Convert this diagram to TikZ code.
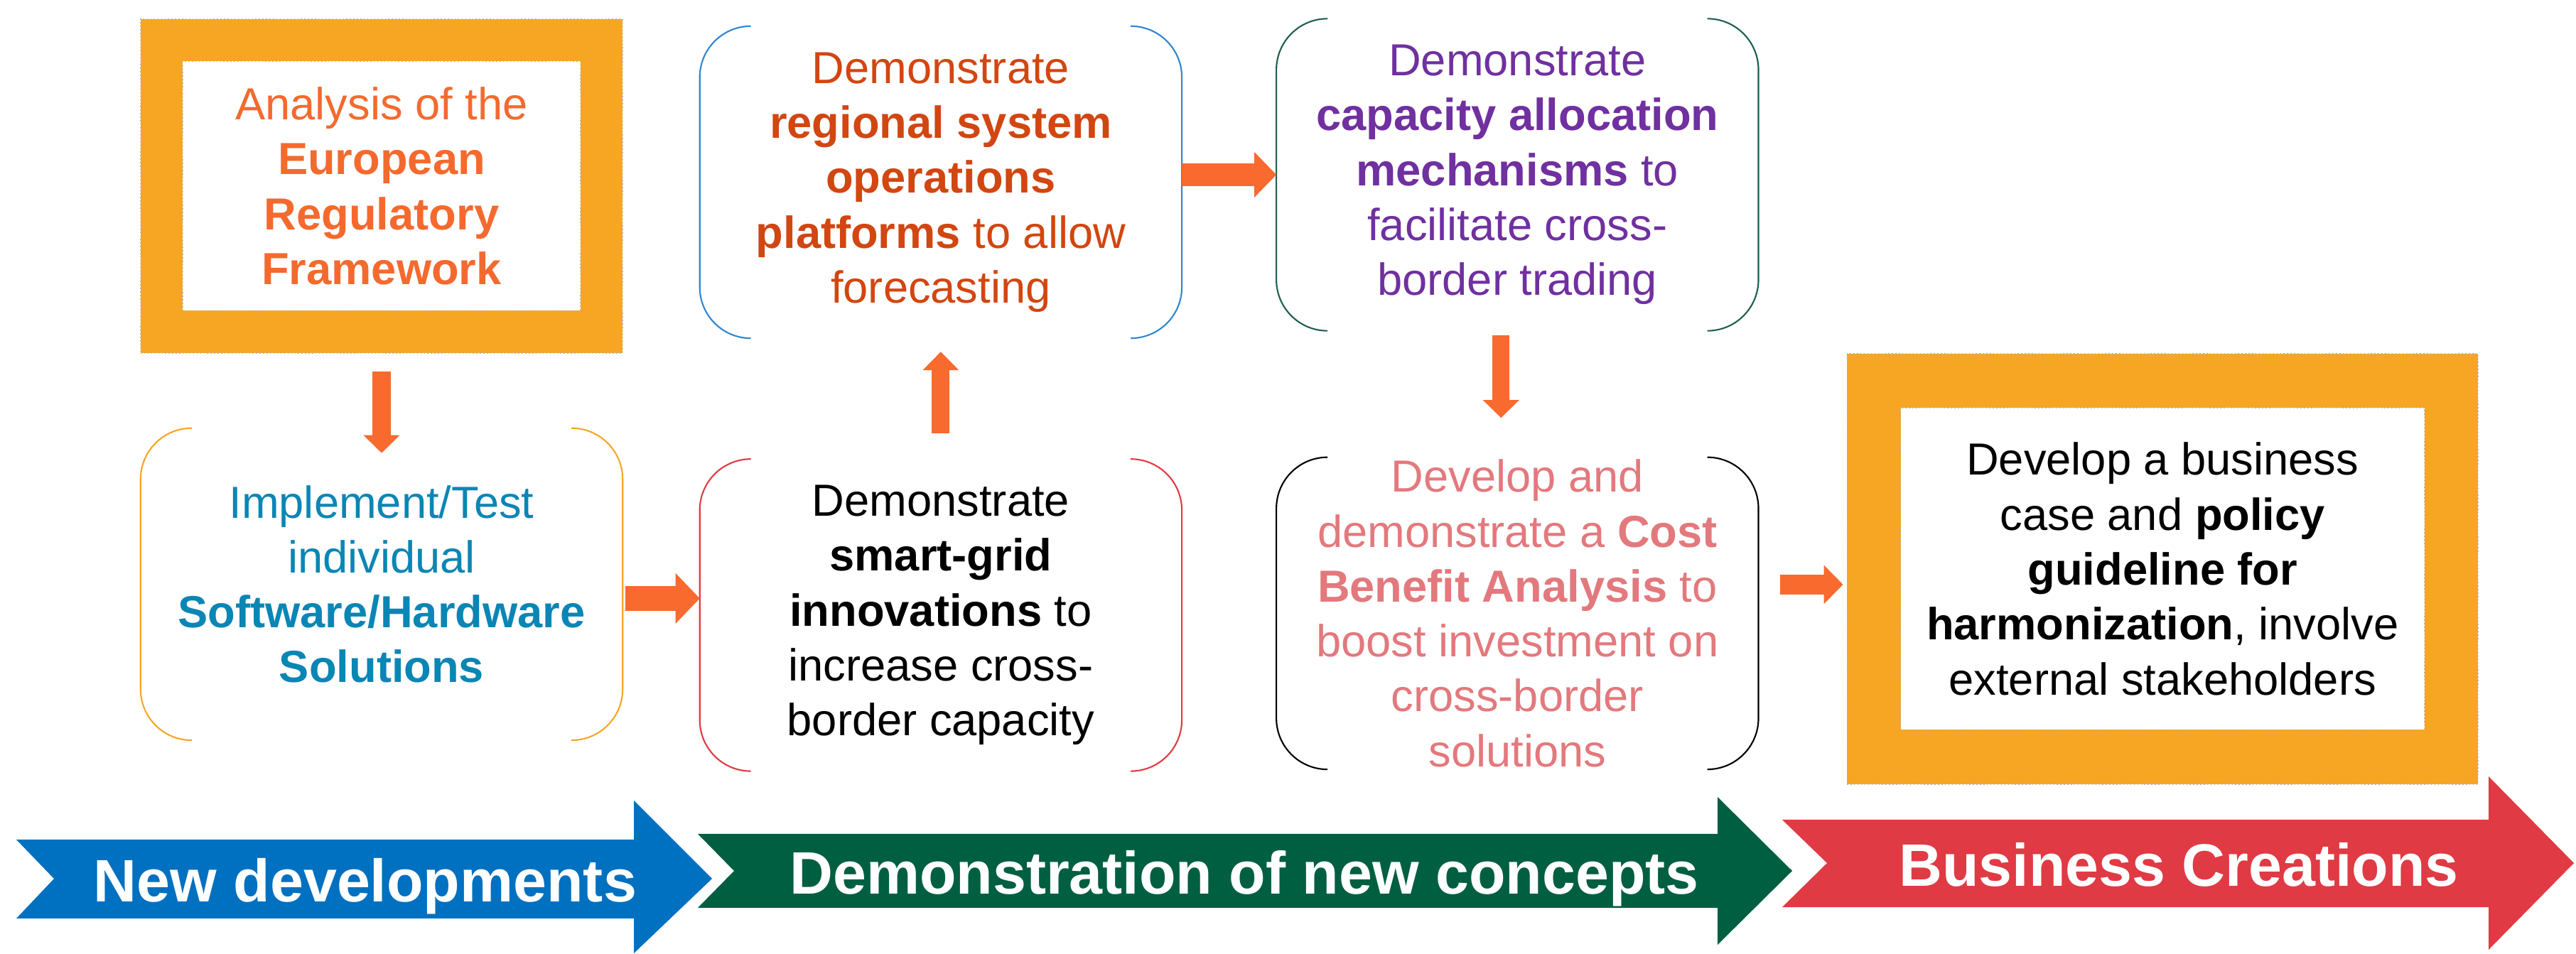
\documentclass[tikz,border=0pt]{standalone}
\usepackage{fontspec}
\setmainfont{Liberation Sans}
\usetikzlibrary{arrows.meta,positioning}

\definecolor{frameorange}{HTML}{F6A623}
\definecolor{arroworange}{HTML}{F86A2E}
\definecolor{anatext}{HTML}{F46A2E}
\definecolor{regtext}{HTML}{D24611}
\definecolor{regline}{HTML}{2E86D0}
\definecolor{captext}{HTML}{7030A0}
\definecolor{capline}{HTML}{1E5E4E}
\definecolor{impltext}{HTML}{0A86B5}
\definecolor{implline}{HTML}{F6A623}
\definecolor{smartline}{HTML}{E03A44}
\definecolor{costtext}{HTML}{E3797D}
\definecolor{newdev}{HTML}{0070C0}
\definecolor{demo}{HTML}{005F41}
\definecolor{busi}{HTML}{E03A44}

\begin{document}
\begin{tikzpicture}[
    box/.style={align=center, inner sep=0pt, font=\fontsize{18}{22}\selectfont},
    frame/.style={fill=frameorange, draw=gray!60, densely dotted, line width=0.4pt},
    inbox/.style={box, fill=white, draw=gray!60, densely dotted, line width=0.4pt},
    stage/.style={box, minimum width=6.77cm, minimum height=4.38cm},
    bracket/.style={rounded corners=0.72cm, line width=0.6pt},
    flow/.style n args={3}{draw=arroworange, line width=#1,
      -{Triangle[width=#2,length=#3,line width=0pt]}},
    banner/.style={text=white, anchor=base, inner sep=0pt,
      font=\bfseries\fontsize{24}{28}\selectfont}]
  \useasboundingbox (0,0) rectangle (36.25,13.42);

  % top row
  \node[frame, minimum width=6.78cm, minimum height=4.70cm] (fr1) at (5.37,10.80) {};
  \node[inbox, minimum width=5.60cm, minimum height=3.51cm, text=anatext] (analysis) at (fr1)
    {Analysis of the\\ \textbf{European}\\ \textbf{Regulatory}\\ \textbf{Framework}};
  \node[stage, text=regtext] (regional) [right=1.08cm of fr1, yshift=0.055cm]
    {Demonstrate\\ \textbf{regional system}\\ \textbf{operations}\\ \textbf{platforms} to allow\\ forecasting};
  \node[stage, text=captext] (capacity) [right=1.33cm of regional, yshift=0.105cm]
    {Demonstrate\\ \textbf{capacity allocation}\\ \textbf{mechanisms} to\\ facilitate cross-\\ border trading};

  % bottom row
  \node[stage, text=impltext] (impl) [below=1.05cm of fr1]
    {Implement/Test\\ individual\\ \textbf{Software/Hardware}\\ \textbf{Solutions}};
  \node[stage] (smart) [below=1.70cm of regional]
    {Demonstrate\\ \textbf{smart-grid}\\ \textbf{innovations} to\\ increase cross-\\ border capacity};
  \node[stage, text=costtext] (cost) [below=1.78cm of capacity]
    {Develop and\\ demonstrate a \textbf{Cost}\\ \textbf{Benefit Analysis} to\\ boost investment on\\ cross-border\\ solutions};
  \node[frame, minimum width=8.88cm, minimum height=6.06cm] (fr7) [right=1.24cm of cost, yshift=0.625cm] {};
  \node[inbox, minimum width=7.37cm, minimum height=4.53cm] (business) at (fr7)
    {Develop a business\\ case and \textbf{policy}\\ \textbf{guideline for}\\ \textbf{harmonization}, involve\\ external stakeholders};

  % brackets
  \foreach \n/\c in {regional/regline, capacity/capline, impl/implline, smart/smartline, cost/black} {
    \draw[bracket, draw=\c] ([xshift=0.72cm]\n.north west) -- (\n.north west)
      -- (\n.south west) -- ([xshift=0.72cm]\n.south west);
    \draw[bracket, draw=\c] ([xshift=-0.72cm]\n.north east) -- (\n.north east)
      -- (\n.south east) -- ([xshift=-0.72cm]\n.south east);
  }

  % flow arrows
  \draw[flow={0.26cm}{0.51cm}{0.25cm}] ([yshift=-0.25cm]fr1.south) -- ([yshift=-0.35cm]fr1.south |- impl.north);
  \draw[flow={0.35cm}{0.71cm}{0.34cm}] ([shift={(0.04,-0.20)}]impl.east) -- ([yshift=-0.20cm]impl.east -| smart.west);
  \draw[flow={0.25cm}{0.51cm}{0.26cm}] ([yshift=0.36cm]smart.north) -- ([yshift=-0.19cm]smart.north |- regional.south);
  \draw[flow={0.32cm}{0.64cm}{0.31cm}] (regional.east |- capacity.west) -- (capacity.west);
  \draw[flow={0.24cm}{0.51cm}{0.25cm}] ([shift={(-0.23,-0.06)}]capacity.south) -- ([shift={(-0.23,0.555)}]capacity.south |- cost.north);
  \draw[flow={0.28cm}{0.55cm}{0.27cm}] ([shift={(0.30,0.405)}]cost.east) -- ([shift={(-0.05,0.405)}]cost.east -| fr7.west);

  % phase banners
  \fill[newdev] (0.23,1.60) -- (0.76,1.05) -- (0.23,0.49) -- (8.92,0.49) -- (8.92,0.00)
    -- (10.02,1.05) -- (8.92,2.15) -- (8.92,1.60) -- cycle;
  \fill[demo] (9.82,1.68) -- (10.33,1.16) -- (9.82,0.64) -- (24.17,0.64) -- (24.17,0.12)
    -- (25.22,1.16) -- (24.17,2.20) -- (24.17,1.68) -- cycle;
  \fill[busi] (25.08,1.88) -- (25.71,1.27) -- (25.08,0.65) -- (35.02,0.65) -- (35.02,0.05)
    -- (36.22,1.27) -- (35.02,2.49) -- (35.02,1.88) -- cycle;
  \node[banner] (nd) at (5.14,0.73) {New developments};
  \node[banner] (dn) at (17.51,0.84) {Demonstration of new concepts};
  \node[banner] (bc) at (30.66,0.95) {Business Creations};
\end{tikzpicture}
\end{document}
